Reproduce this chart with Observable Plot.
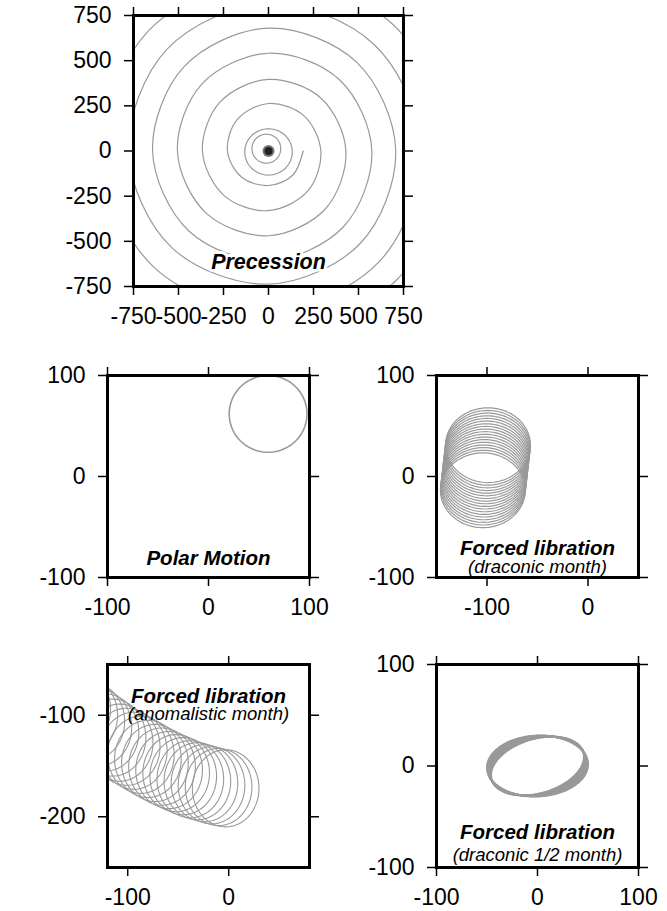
<!DOCTYPE html>
<html><head><meta charset="utf-8">
<script src="https://cdn.jsdelivr.net/npm/d3@7"></script>
<script src="https://cdn.jsdelivr.net/npm/@observablehq/plot@0.6"></script>
<style>
body{margin:0;background:#fff;}
#wrap{position:relative;width:667px;height:911px;background:#fff;overflow:hidden;}
#wrap > svg{position:absolute;}
</style></head><body><div id="wrap"></div>
<script>
// ---------- data ----------
// Panel 1: precession spiral, radius every 45 deg going clockwise from +x
const precessionRadius = [193,190,191,208,228,246,263,277,291,311,330,349,367,382,396,413,430,450,469,488,506,524,541,558,574,591,607,626,644,662,680,694,707,722,737,758,778,797,815,832,848,868,883,905,920,942,957,984,994,1008,1028];
const precessionInnerLoops = [{cx:-12, cy:13, rx:80, ry:80}, {cx:0, cy:-5, rx:132, ry:128}];
const poleCenter = [{x:0, y:0}];
const precessionTicks = [-750,-500,-250,0,250,500,750];

// Panel 2: polar motion
const polarLoops = [{cx:59, cy:62, rx:38.5, ry:38}];
const polarTicks = [-100,0,100];

// Panel 3: forced libration, draconic month (loop centres)
const dracCx = [-99,-99.3,-99.6,-99.9,-100.2,-100.5,-100.8,-101.1,-101.4,-101.7,-102,-102.3,-102.6,-102.9,-103.2,-103.5,-103.8,-104.1];
const dracCy = [31,28.4,25.8,23.1,20.5,17.9,15.2,12.6,10,7.4,4.8,2.1,-0.5,-3.1,-5.8,-8.4,-11,-13.6];
const dracRx = 42, dracRy = 37;
const dracXTicks = [-100,0], dracYTicks = [-100,0,100];

// Panel 4: forced libration, anomalistic month (loop centres)
const anomCx = [-3,-10,-17,-24,-31,-38,-45,-52,-59,-66,-73,-80,-87,-94,-101,-108,-115,-122,-129,-136,-143,-150,-157];
const anomCy = [-172,-170.7,-169,-167,-165,-163,-160,-157,-154,-150.5,-147,-143,-139,-135,-131,-127,-122,-117,-112,-106,-100,-94,-88];
const anomRx = 33, anomRy = 38;
const anomXTicks = [-100,0], anomYTicks = [-200,-100];

// Panel 5: forced libration, draconic 1/2 month (ellipse family: semi-axes a, b and tilt c)
const halfA = [46,46.4,46.8,47.2,47.6,48,48.4,48.8,49.2,49.6,50];
const halfB = [27.5,27.75,28,28.25,28.5,28.75,29,29.25,29.5,29.75,30];
const halfC = [9,8.25,7.5,6.75,6,5.25,4.5,3.75,3,2.25,1.5];
const halfTicks = [-100,0,100];

// ---------- helpers ----------
const GRAY = "#999";
const FONT = "'Liberation Sans', Arial, Helvetica, sans-serif";
const N = 96;
function loopPoints(loops) {
  const out = [];
  loops.forEach((l, k) => {
    for (let i = 0; i <= N; i++) {
      const t = 2 * Math.PI * i / N;
      out.push({loop: k, x: l.cx + l.rx * Math.cos(t), y: l.cy + l.ry * Math.sin(t) + (l.c || 0) * Math.cos(t)});
    }
  });
  return out;
}
const spiral = precessionRadius.map((r, i) => {
  const a = -i * Math.PI / 4;
  return {x: r * Math.cos(a), y: r * Math.sin(a)};
});

const wrap = document.getElementById("wrap");
function panel({left, top, w, h, xDomain, yDomain, xTicks, yTicks, marks}) {
  const mL = 100, mR = 30, mT = 20, mB = 50;
  const fmt = d => String(d);
  const common = {tickSize: 9, strokeWidth: 1.5, fontSize: 23};
  const svg = Plot.plot({
    width: w + mL + mR, height: h + mT + mB,
    marginLeft: mL, marginRight: mR, marginTop: mT, marginBottom: mB,
    x: {domain: xDomain, label: null},
    y: {domain: yDomain, label: null},
    style: {fontFamily: FONT, background: "transparent", color: "black", overflow: "visible"},
    marks: [
      ...marks,
      Plot.frame({stroke: "black", strokeWidth: 3}),
      Plot.axisX({...common, anchor: "bottom", ticks: xTicks, tickFormat: fmt, tickPadding: 12}),
      Plot.axisX({...common, anchor: "top", ticks: xTicks, tickFormat: () => ""}),
      Plot.axisY({...common, anchor: "left", ticks: yTicks, tickFormat: fmt, tickPadding: 13}),
      Plot.axisY({...common, anchor: "right", ticks: yTicks, tickFormat: () => ""})
    ]
  });
  svg.style.left = (left - mL) + "px";
  svg.style.top = (top - mT) + "px";
  wrap.appendChild(svg);
}
const titleStyle = {fontSize: 20.5, fontWeight: "bold", fontStyle: "italic", fill: "black", lineAnchor: "bottom"};
const subStyle = {fontSize: 18.5, fontStyle: "italic", fill: "black", lineAnchor: "bottom"};

// Panel 1
panel({left: 133, top: 15, w: 270, h: 271, xDomain: [-750, 750], yDomain: [-750, 750],
  xTicks: precessionTicks, yTicks: precessionTicks,
  marks: [
    Plot.line(spiral, {x: "x", y: "y", stroke: GRAY, strokeWidth: 1.2, curve: "catmull-rom", clip: true}),
    Plot.line(loopPoints(precessionInnerLoops), {x: "x", y: "y", z: "loop", stroke: GRAY, strokeWidth: 1.2, clip: true}),
    Plot.dot(poleCenter, {x: "x", y: "y", r: 6, fill: "#777"}),
    Plot.dot(poleCenter, {x: "x", y: "y", r: 4, fill: "#222"}),
    Plot.text(["Precession"], {frameAnchor: "bottom", dy: -18, ...titleStyle, fontSize: 21.5, stroke: "white", strokeWidth: 6, paintOrder: "stroke"})
  ]});

// Panel 2
panel({left: 107, top: 375, w: 202, h: 202, xDomain: [-100, 100], yDomain: [-100, 100],
  xTicks: polarTicks, yTicks: polarTicks,
  marks: [
    Plot.line(loopPoints(polarLoops), {x: "x", y: "y", z: "loop", stroke: GRAY, strokeWidth: 1.6, clip: true}),
    Plot.text(["Polar Motion"], {frameAnchor: "bottom", dy: -13, ...titleStyle})
  ]});

// Panel 3
panel({left: 436, top: 375, w: 202, h: 202, xDomain: [-150, 50], yDomain: [-100, 100],
  xTicks: dracXTicks, yTicks: dracYTicks,
  marks: [
    Plot.line(loopPoints(dracCx.map((cx, i) => ({cx, cy: dracCy[i], rx: dracRx, ry: dracRy}))), {x: "x", y: "y", z: "loop", stroke: GRAY, strokeWidth: 1.2, clip: true}),
    Plot.text(["Forced libration"], {frameAnchor: "bottom", dy: -23, ...titleStyle}),
    Plot.text(["(draconic month)"], {frameAnchor: "bottom", dy: -5, ...subStyle})
  ]});

// Panel 4
panel({left: 107, top: 664, w: 202, h: 203, xDomain: [-120, 80], yDomain: [-250, -50],
  xTicks: anomXTicks, yTicks: anomYTicks,
  marks: [
    Plot.line(loopPoints(anomCx.map((cx, i) => ({cx, cy: anomCy[i], rx: anomRx, ry: anomRy}))), {x: "x", y: "y", z: "loop", stroke: GRAY, strokeWidth: 1.1, clip: true}),
    Plot.text(["Forced libration"], {frameAnchor: "top", dy: 38, ...titleStyle}),
    Plot.text(["(anomalistic month)"], {frameAnchor: "top", dy: 55, ...subStyle})
  ]});

// Panel 5
panel({left: 436, top: 664, w: 202, h: 203, xDomain: [-100, 100], yDomain: [-100, 100],
  xTicks: halfTicks, yTicks: halfTicks,
  marks: [
    Plot.line(loopPoints(halfA.map((a, i) => ({cx: 0, cy: 0, rx: a, ry: halfB[i], c: halfC[i]}))), {x: "x", y: "y", z: "loop", stroke: GRAY, strokeWidth: 2, clip: true}),
    Plot.text(["Forced libration"], {frameAnchor: "bottom", dy: -29, ...titleStyle}),
    Plot.text(["(draconic 1/2 month)"], {frameAnchor: "bottom", dy: -7, ...subStyle})
  ]});
</script></body></html>
